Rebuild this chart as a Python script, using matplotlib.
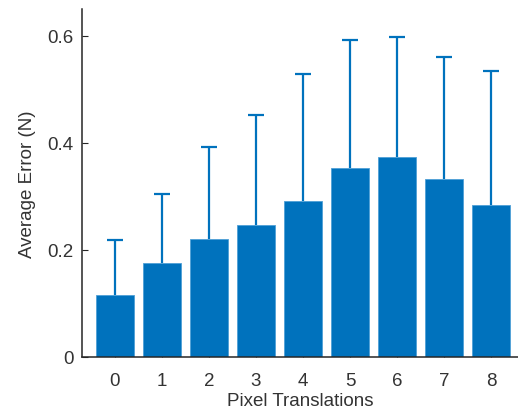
import numpy as np
import matplotlib.pyplot as plt

plt.rcParams['font.family'] = ['Liberation Sans', 'DejaVu Sans']

shifts = [0, 1, 2, 3, 4, 5, 6, 7, 8]
mean_err = [0.116, 0.176, 0.221, 0.247, 0.291, 0.353, 0.374, 0.333, 0.284]
std_err = [0.103, 0.128, 0.172, 0.205, 0.238, 0.240, 0.224, 0.228, 0.251]

blue = '#0072BD'
grey = '#262626'
text_grey = '#333333'

fig = plt.figure(figsize=(5.18, 4.14), dpi=100)
ax = fig.add_axes([82 / 518, 1 - 358 / 414, (518 - 82) / 518, (358 - 10) / 414])

ax.bar(shifts, mean_err, width=0.8, color=blue, edgecolor='#4f9fd6', linewidth=0.6, zorder=2)
eb = ax.errorbar(shifts, mean_err, yerr=[np.zeros(len(std_err)), std_err], fmt='none',
                 ecolor=blue, elinewidth=1.6, capsize=5.5, capthick=1.6, zorder=3)
# only the upper cap, like the original figure
eb[1][0].set_visible(False)

ax.set_xlim(-0.70, 8.57)
ax.set_ylim(0, 0.65)
ax.set_xticks(shifts)
ax.set_yticks([0, 0.2, 0.4, 0.6])
ax.set_yticklabels(['0', '0.2', '0.4', '0.6'])

for side in ['top', 'right']:
    ax.spines[side].set_visible(False)
for side in ['left', 'bottom']:
    ax.spines[side].set_color(grey)
    ax.spines[side].set_linewidth(1.1)

ax.tick_params(direction='in', length=4, width=0.8, colors=grey, labelcolor=text_grey,
               labelsize=13.5)
ax.tick_params(axis='x', pad=11)
ax.tick_params(axis='y', pad=6)
ax.set_xlabel('Pixel Translations', fontsize=13.5, color=text_grey, labelpad=2)
ax.set_ylabel('Average Error (N)', fontsize=13.5, color=text_grey, labelpad=8)

fig.savefig('out.png', dpi=100)
